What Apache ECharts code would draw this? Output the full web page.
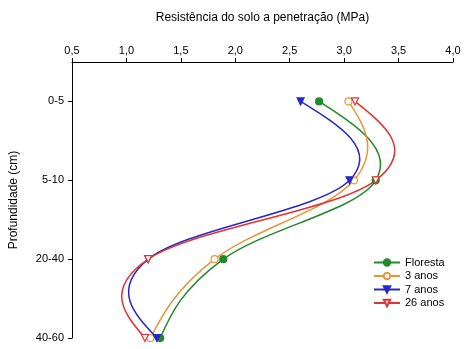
<!DOCTYPE html>
<html><head><meta charset="utf-8">
<script src="https://cdn.jsdelivr.net/npm/echarts@6/dist/echarts.min.js"></script>
<style>html,body{margin:0;padding:0;background:#fff}#c{width:473px;height:349px}</style>
</head><body><div id="c"></div>
<script>
const depths = ['0-5', '5-10', '20-40', '40-60'];
const xTicks = ['0,5', '1,0', '1,5', '2,0', '2,5', '3,0', '3,5', '4,0'];
const floresta = [2.77, 3.29, 1.89, 1.31];
const anos3 = [3.04, 3.09, 1.81, 1.22];
const anos7 = [2.60, 3.05, 1.20, 1.28];
const anos26 = [3.10, 3.29, 1.20, 1.17];

const font = 'Liberation Sans, Arial, sans-serif';
const S = 0.58;

function curve(vals, color) {
  return {
    type: 'custom', z: 1, silent: true,
    data: vals.map((v, i) => [v, i]),
    encode: { x: 0, y: 1 },
    renderItem: function (params, api) {
      const i = params.dataIndex;
      const n = vals.length;
      if (i >= n - 1) return null;
      const p = vals.map((v, k) => api.coord([v, k]));
      const T = [];
      for (let k = 1; k < n - 1; k++) {
        T[k] = [(p[k + 1][0] - p[k - 1][0]) * S, (p[k + 1][1] - p[k - 1][1]) * S];
      }
      T[0] = [(3 * (p[1][0] - p[0][0]) - T[1][0]) / 2, (3 * (p[1][1] - p[0][1]) - T[1][1]) / 2];
      const m = n - 1;
      T[m] = [(3 * (p[m][0] - p[m - 1][0]) - T[m - 1][0]) / 2, (3 * (p[m][1] - p[m - 1][1]) - T[m - 1][1]) / 2];
      const t0 = T[i], t1 = T[i + 1];
      return {
        type: 'bezierCurve',
        shape: {
          x1: p[i][0], y1: p[i][1], x2: p[i + 1][0], y2: p[i + 1][1],
          cpx1: p[i][0] + t0[0] / 3, cpy1: p[i][1] + t0[1] / 3,
          cpx2: p[i + 1][0] - t1[0] / 3, cpy2: p[i + 1][1] - t1[1] / 3
        },
        style: { stroke: color, fill: null, lineWidth: 1.5 }
      };
    }
  };
}
function mk(name, vals, color, symbol, hollow, rot) {
  return {
    name: name, type: 'line', z: 3,
    data: vals.map((v, i) => [v, i]),
    symbol: symbol, symbolSize: 7, symbolRotate: rot, showAllSymbol: true,
    lineStyle: { color: color, width: 1.5, opacity: 0 },
    itemStyle: { color: hollow ? '#fff' : color, borderColor: color, borderWidth: 1.2 },
    color: color
  };
}
const colors = ['#23882a', '#e8953a', '#2828c4', '#e03434'];
const names = ['Floresta', '3 anos', '7 anos', '26 anos'];
const chart = echarts.init(document.getElementById('c'));
chart.setOption({
  animation: false,
  grid: { left: 72, right: 20, top: 62, bottom: 11 },
  xAxis: {
    type: 'value', position: 'top', min: 0.5, max: 4.0, interval: 0.5,
    name: 'Resistência do solo a penetração (MPa)', nameLocation: 'middle', nameGap: 38,
    nameTextStyle: { fontFamily: font, fontSize: 12, color: '#000' },
    axisLine: { onZero: false, lineStyle: { color: '#000', width: 1 } },
    axisTick: { show: true, length: 4, lineStyle: { color: '#000' } },
    axisLabel: { fontFamily: font, fontSize: 11, color: '#000', margin: 6,
      formatter: v => xTicks[Math.round((v - 0.5) / 0.5)] },
    splitLine: { show: false }
  },
  yAxis: {
    type: 'value', inverse: true, min: -0.5, max: 3, interval: 0.5,
    name: 'Profundidade (cm)', nameLocation: 'middle', nameGap: 52, nameRotate: 90,
    nameTextStyle: { fontFamily: font, fontSize: 12, color: '#000' },
    axisLine: { show: true, onZero: false, lineStyle: { color: '#000', width: 1 } },
    axisTick: { show: true, length: 4, lineStyle: { color: '#000' }, customValues: [0, 1, 2, 3] },
    axisLabel: { fontFamily: font, fontSize: 11, color: '#000', margin: 8,
      customValues: [0, 1, 2, 3],
      formatter: v => depths[Math.round(v)] },
    splitLine: { show: false }
  },
  legend: {
    orient: 'vertical', left: 368, top: 252, itemGap: 2.5, itemWidth: 26, itemHeight: 8,
    textStyle: { fontFamily: font, fontSize: 11, color: '#000' },
    data: names.map((nm, i) => ({ name: nm, lineStyle: { opacity: 1, color: colors[i], width: 2 } }))
  },
  series: [
    curve(floresta, colors[0]),
    curve(anos3, colors[1]),
    curve(anos7, colors[2]),
    curve(anos26, colors[3]),
    mk('Floresta', floresta, colors[0], 'circle', false, 0),
    mk('3 anos', anos3, colors[1], 'circle', true, 0),
    mk('7 anos', anos7, colors[2], 'triangle', false, 180),
    mk('26 anos', anos26, colors[3], 'triangle', true, 180)
  ]
});
</script></body></html>
